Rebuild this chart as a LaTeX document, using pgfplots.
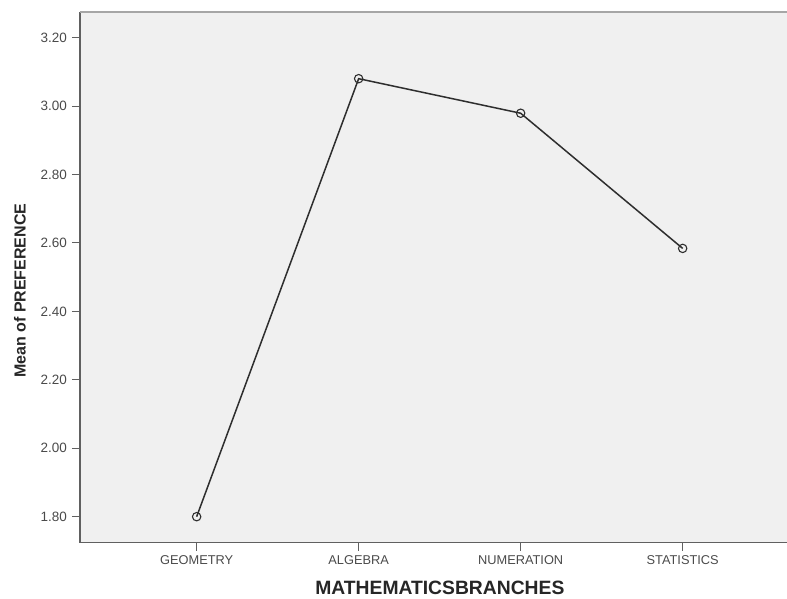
\documentclass[border=0pt]{standalone}
\usepackage{pgfplots}
\pgfplotsset{compat=1.18}
\usepackage{fontspec}
\setmainfont{Liberation Sans}
\definecolor{bg}{HTML}{F0F0F0}
\definecolor{tickgray}{HTML}{4A4A4A}
\definecolor{linecol}{HTML}{2E2E2E}
\definecolor{axcol}{HTML}{606060}
\begin{document}
\begin{tikzpicture}
\useasboundingbox (0pt,0pt) rectangle (787pt,599pt);
\begin{axis}[
  at={(80pt,56.3pt)}, anchor=south west,
  scale only axis, width=707pt, height=530.4pt,
  xmin=-0.72, xmax=3.644, ymin=1.724, ymax=3.274,
  axis background/.style={fill=bg},
  axis x line*=bottom, axis y line*=left,
  axis line style={-, draw=axcol, line width=1.4pt},
  tick align=outside,
  major tick length=8pt,
  tick style={draw=axcol, line width=1pt},
  xtick={0,1,2,3},
  xticklabels={GEOMETRY,ALGEBRA,NUMERATION,STATISTICS},
  ytick={1.8,2.0,2.2,2.4,2.6,2.8,3.0,3.2},
  y tick label style={/pgf/number format/fixed, /pgf/number format/fixed zerofill, /pgf/number format/precision=2},
  /pgf/number format/assume math mode=true,
  ticklabel style={text=tickgray},
  xticklabel style={font=\fontsize{12.8}{14}\selectfont, yshift=-1pt},
  yticklabel style={font=\fontsize{13.5}{15}\selectfont, xshift=-1.5pt},
  xlabel={MATHEMATICSBRANCHES},
  ylabel={Mean of PREFERENCE},
  xlabel style={at={(axis description cs:0.509,-0.0854)}, anchor=center, font=\bfseries\fontsize{19.3}{21}\selectfont, text=black!85},
  ylabel style={at={(axis description cs:-0.0849,0.475)}, anchor=center, font=\bfseries\fontsize{16}{18}\selectfont, text=black!85},
  clip=false,
]
\addplot[color=linecol, line width=1.5pt, mark=o, mark size=4.2pt, mark options={draw=linecol, line width=1.1pt, fill=none}]
  coordinates {(0,1.800) (1,3.080) (2,2.979) (3,2.584)};
\draw[draw=gray!70, line width=2pt] (rel axis cs:0,1) -- (rel axis cs:1.01,1);
\end{axis}
\end{tikzpicture}
\end{document}
